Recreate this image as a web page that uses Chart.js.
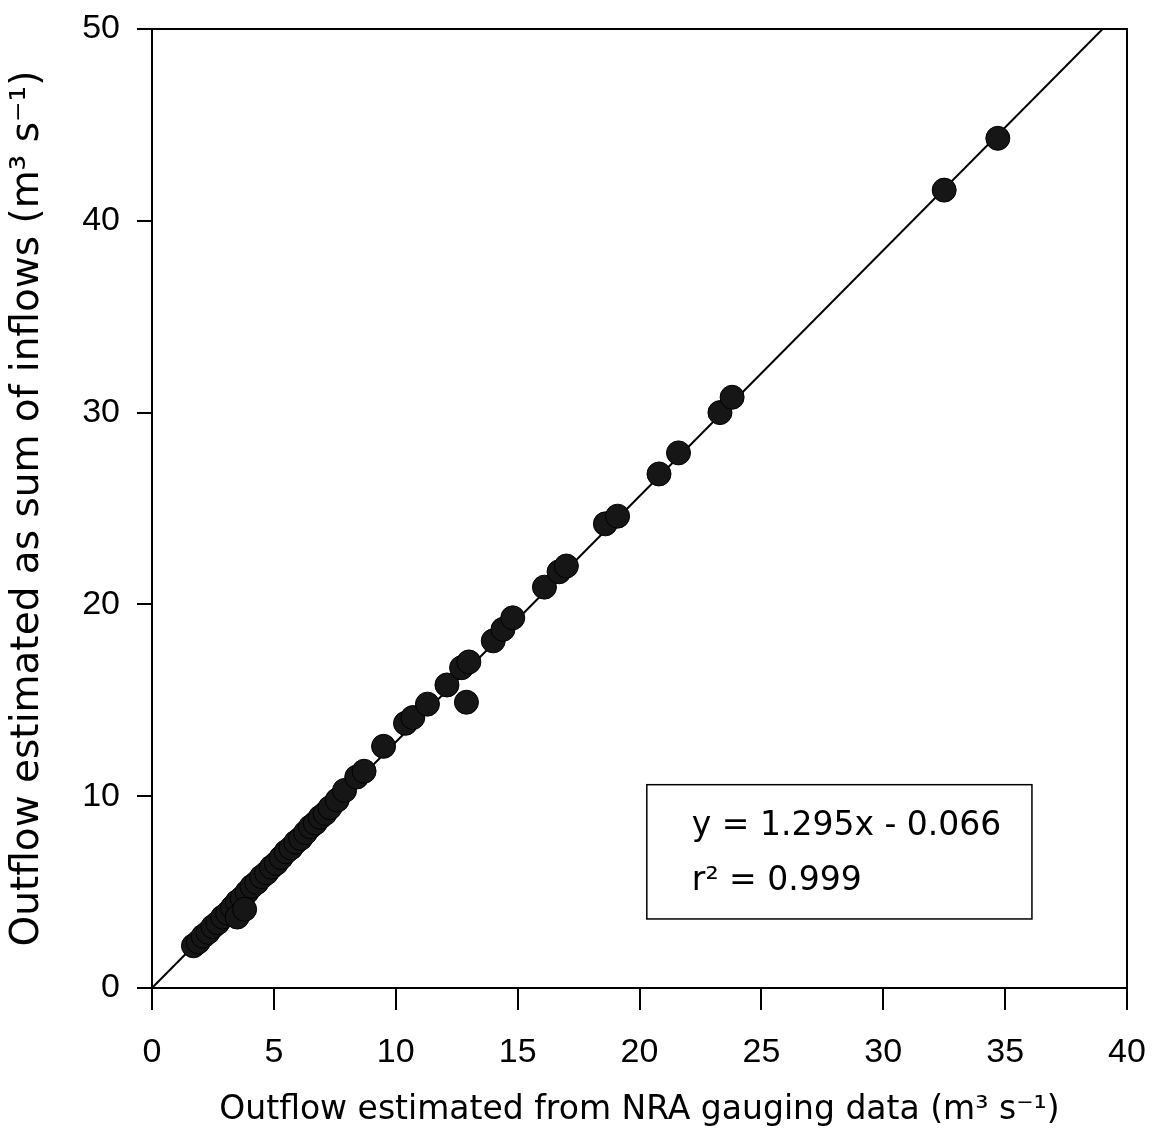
<!DOCTYPE html>
<html>
<head>
<meta charset="utf-8">
<script src="https://cdn.jsdelivr.net/npm/chart.js@4/dist/chart.umd.min.js"></script>
<style>
  html,body{margin:0;padding:0;background:#fff;}
  #wrap{width:1153px;height:1147px;}
</style>
</head>
<body>
<div id="wrap"><canvas id="c" width="1153" height="1147"></canvas></div>
<script>
// Outflow estimated from NRA gauging data (m3 s-1)
const gaugedX = [1.7,1.9,2.1,2.3,2.5,2.7,2.9,3.1,3.3,3.5,3.7,3.9,4.1,4.3,4.5,4.7,4.9,5.1,5.3,5.5,5.7,5.9,6.1,6.3,6.5,6.7,6.9,7.1,7.3,7.6,
                 3.5,3.8,7.9,8.4,8.7,9.5,10.4,10.7,11.3,12.1,12.7,13.0,12.9,14.0,14.4,14.8,16.1,16.7,17.0,18.6,19.1,20.8,21.6,23.3,23.8,32.5,34.7];
// Outflow estimated as sum of inflows (m3 s-1)
const inflowY = [2.2,2.4,2.7,2.9,3.2,3.4,3.7,3.9,4.2,4.5,4.7,5.0,5.3,5.5,5.8,6.0,6.3,6.5,6.8,7.1,7.3,7.6,7.8,8.1,8.4,8.6,8.9,9.1,9.4,9.8,
                 3.7,4.1,10.3,11.0,11.3,12.6,13.8,14.1,14.8,15.8,16.7,17.0,14.9,18.1,18.7,19.3,20.9,21.7,22.0,24.2,24.6,26.8,27.9,30.0,30.8,41.6,44.3];
// fitted line end points
const lineX = [0, 39];
const lineY = [0, 50];
// axis ticks
const xTicks = [0,5,10,15,20,25,30,35,40];
const yTicks = [0,10,20,30,40,50];
// annotation
const eqLines = ["y = 1.295x - 0.066", "r² = 0.999"];
const boxX = [20.3, 36.1];
const boxY = [3.6, 10.6];

const FONT = "'Liberation Sans', Arial, Helvetica, sans-serif";
const WIDE = "'DejaVu Sans', 'Liberation Sans', Arial, sans-serif";
const CA = {left:152, right:1127, top:29, bottom:988};
const W = 1153, H = 1147;

const scatterData = gaugedX.map((x,i)=>({x:x, y:inflowY[i]}));
const lineData = lineX.map((x,i)=>({x:x, y:lineY[i]}));

const framePlugin = {
  id:'frame',
  afterDatasetsDraw(chart){
    const {ctx, chartArea:a, scales} = chart;
    ctx.save();
    ctx.strokeStyle = '#000';
    ctx.lineWidth = 2;
    ctx.strokeRect(a.left, a.top, a.right-a.left, a.bottom-a.top);
    // annotation box
    const x0 = scales.x.getPixelForValue(boxX[0]), x1 = scales.x.getPixelForValue(boxX[1]);
    const y0 = scales.y.getPixelForValue(boxY[1]), y1 = scales.y.getPixelForValue(boxY[0]);
    ctx.fillStyle = '#fff';
    ctx.fillRect(x0, y0, x1-x0, y1-y0);
    ctx.lineWidth = 1.5;
    ctx.strokeRect(x0, y0, x1-x0, y1-y0);
    ctx.fillStyle = '#000';
    ctx.font = "33px " + WIDE;
    ctx.textBaseline = 'middle';
    ctx.textAlign = 'left';
    const h = y1-y0;
    ctx.fillText(eqLines[0], x0+45, y0 + h*0.31);
    ctx.fillText(eqLines[1], x0+45, y0 + h*0.72);
    ctx.restore();
  }
};

new Chart(document.getElementById('c'), {
  data:{
    datasets:[
      {type:'line', data:lineData, borderColor:'#000', borderWidth:2, pointRadius:0, fill:false, order:2},
      {type:'scatter', data:scatterData, backgroundColor:'#161616', borderColor:'#000', borderWidth:1, pointRadius:12, pointHoverRadius:12, order:1}
    ]
  },
  options:{
    responsive:false,
    animation:false,
    devicePixelRatio:1,
    layout:{padding:{top:CA.top, right:W-CA.right, left:0, bottom:0}},
    plugins:{legend:{display:false}, tooltip:{enabled:false}},
    scales:{
      x:{
        type:'linear', min:0, max:40,
        afterBuildTicks(s){ s.ticks = xTicks.map(v=>({value:v})); },
        afterFit(s){ s.height = H - CA.bottom; s.paddingLeft = 0; s.paddingRight = 0; },
        grid:{display:true, drawOnChartArea:false, drawTicks:true, tickLength:22, color:'#000', lineWidth:2},
        border:{display:true, color:'#000', width:2},
        ticks:{color:'#000', font:{family:FONT, size:34}, padding:22, maxRotation:0},
        title:{display:true, text:'Outflow estimated from NRA gauging data (m³ s⁻¹)', color:'#000', font:{family:WIDE, size:33}, padding:{top:0,bottom:17}}
      },
      y:{
        type:'linear', min:0, max:50,
        afterBuildTicks(s){ s.ticks = yTicks.map(v=>({value:v})); },
        afterFit(s){ s.width = CA.left; s.paddingTop = 0; s.paddingBottom = 0; },
        grid:{display:true, drawOnChartArea:false, drawTicks:true, tickLength:15, color:'#000', lineWidth:2},
        border:{display:true, color:'#000', width:2},
        ticks:{color:'#000', font:{family:FONT, size:34}, padding:17},
        title:{display:true, text:'Outflow estimated as sum of inflows (m³ s⁻¹)', color:'#000', font:{family:WIDE, size:39}, padding:{top:4,bottom:0}}
      }
    }
  },
  plugins:[framePlugin]
});
</script>
</body>
</html>
